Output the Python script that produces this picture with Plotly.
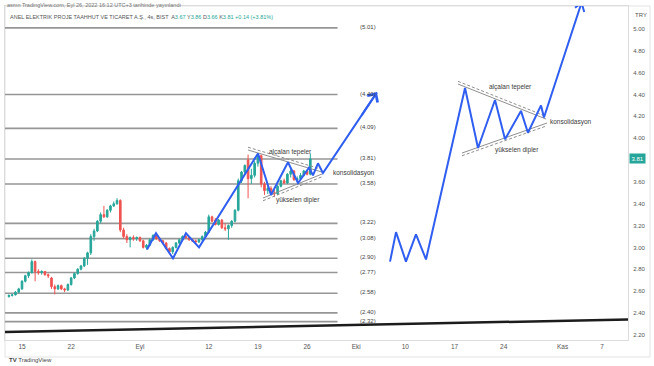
import plotly.graph_objects as go

# ---------------- data ----------------
opens = [2.55, 2.56, 2.565, 2.59, 2.62, 2.69, 2.74, 2.77, 2.87, 2.78,
         2.77, 2.78, 2.75, 2.72, 2.64, 2.62, 2.65, 2.62, 2.61, 2.66,
         2.72, 2.76, 2.80, 2.83, 2.90, 2.95, 3.10, 3.15, 3.24, 3.30,
         3.28, 3.34, 3.38, 3.40, 3.43, 3.16, 3.10, 3.07, 3.09, 3.08,
         3.09, 3.06, 3.00, 3.02, 3.07, 3.11, 3.08, 3.06, 3.04, 2.99,
         2.96, 3.00, 3.04, 3.07, 3.10, 3.09, 3.07, 3.06, 3.05, 3.07,
         3.10, 3.14, 3.28, 3.25, 3.21, 3.25, 3.18, 3.17, 3.20, 3.24,
         3.34, 3.61, 3.69, 3.80, 3.63, 3.66, 3.77, 3.84, 3.58, 3.52,
         3.54, 3.50, 3.49, 3.56, 3.61, 3.59, 3.67, 3.70, 3.62, 3.63,
         3.66, 3.70, 3.67]
highs = [2.57, 2.575, 2.60, 2.63, 2.70, 2.75, 2.78, 2.89, 2.88, 2.80,
         2.79, 2.78, 2.76, 2.73, 2.66, 2.66, 2.66, 2.63, 2.67, 2.73,
         2.77, 2.81, 2.84, 2.91, 2.96, 3.12, 3.17, 3.25, 3.32, 3.38,
         3.35, 3.39, 3.42, 3.45, 3.44, 3.18, 3.12, 3.10, 3.11, 3.10,
         3.10, 3.07, 3.03, 3.08, 3.12, 3.12, 3.09, 3.07, 3.05, 3.00,
         3.01, 3.05, 3.08, 3.11, 3.11, 3.10, 3.08, 3.07, 3.08, 3.11,
         3.15, 3.30, 3.29, 3.27, 3.26, 3.26, 3.22, 3.21, 3.25, 3.35,
         3.63, 3.70, 3.76, 3.85, 3.72, 3.79, 3.86, 3.85, 3.60, 3.56,
         3.56, 3.53, 3.57, 3.62, 3.63, 3.68, 3.72, 3.71, 3.65, 3.68,
         3.71, 3.71, 3.86]
lows = [2.54, 2.55, 2.56, 2.58, 2.61, 2.68, 2.72, 2.76, 2.69, 2.75,
        2.75, 2.74, 2.72, 2.62, 2.57, 2.61, 2.61, 2.59, 2.60, 2.65,
        2.71, 2.75, 2.79, 2.82, 2.84, 2.93, 3.06, 3.14, 3.22, 3.27,
        3.27, 3.32, 3.37, 3.39, 3.14, 3.08, 3.04, 3.00, 3.06, 3.06,
        3.05, 2.99, 2.98, 3.01, 3.06, 3.07, 3.05, 3.03, 2.98, 2.95,
        2.94, 2.99, 3.03, 3.06, 3.08, 3.06, 3.05, 3.04, 3.04, 3.06,
        3.09, 3.13, 3.23, 3.20, 3.20, 3.17, 3.15, 3.07, 3.18, 3.23,
        3.33, 3.59, 3.67, 3.45, 3.58, 3.64, 3.74, 3.55, 3.48, 3.49,
        3.49, 3.46, 3.48, 3.55, 3.58, 3.58, 3.64, 3.61, 3.60, 3.62,
        3.65, 3.66, 3.66]
closes = [2.56, 2.565, 2.59, 2.62, 2.69, 2.74, 2.77, 2.87, 2.78, 2.77,
          2.78, 2.75, 2.74, 2.64, 2.62, 2.65, 2.62, 2.61, 2.66, 2.72,
          2.76, 2.80, 2.83, 2.90, 2.95, 3.10, 3.15, 3.24, 3.30, 3.28,
          3.34, 3.38, 3.40, 3.43, 3.16, 3.10, 3.07, 3.09, 3.08, 3.09,
          3.06, 3.00, 3.02, 3.07, 3.11, 3.08, 3.06, 3.04, 2.99, 2.96,
          3.00, 3.04, 3.07, 3.10, 3.09, 3.07, 3.06, 3.05, 3.07, 3.10,
          3.14, 3.28, 3.24, 3.21, 3.25, 3.18, 3.17, 3.20, 3.24, 3.34,
          3.61, 3.69, 3.75, 3.63, 3.66, 3.77, 3.84, 3.58, 3.52, 3.54,
          3.50, 3.49, 3.56, 3.61, 3.59, 3.67, 3.70, 3.62, 3.63, 3.66,
          3.70, 3.67, 3.81]
first_bar_day = -4 / 3          # trading-day index of first 4h bar
bars_per_day = 3

# horizontal support / resistance levels
levels = [5.01, 4.40, 4.09, 3.81, 3.58, 3.22, 3.08, 2.90, 2.77, 2.58, 2.40, 2.32]
level_end_day = 32.1
level_label_day = 34.2

# long black trend line
trend_x = [-1.73, 61.65]
trend_y = [2.225, 2.34]

# blue zig-zag on the price chart
zig1_x = [12.72, 13.63, 15.36, 16.68, 18.01, 24.01, 25.33, 27.06, 28.08, 29.20, 29.60, 30.11, 30.62, 36.11]
zig1_y = [2.98, 3.13, 2.90, 3.13, 3.00, 3.86, 3.48, 3.78, 3.59, 3.73, 3.66, 3.77, 3.68, 4.42]

# blue schematic zig-zag on the right
zig2_x = [37.44, 38.05, 39.06, 40.08, 41.10, 45.07, 46.39, 48.12, 49.14, 50.76, 51.47, 52.80, 53.10, 56.92]
zig2_y = [2.87, 3.14, 2.87, 3.12, 2.89, 4.46, 3.91, 4.35, 3.99, 4.25, 4.05, 4.30, 4.19, 5.24]
zig2_wing_x = [56.26, 56.92, 57.20]
zig2_wing_y = [5.194, 5.24, 5.156]

# triangle boundary lines  (x0, y0, x1, y1)
tri_solid = [(22.99, 3.892, 30.52, 3.690), (24.52, 3.452, 30.52, 3.672),
             (44.35, 4.496, 53.30, 4.176), (44.76, 3.864, 53.41, 4.139)]
tri_dashed = [(22.99, 3.917, 30.52, 3.715), (24.52, 3.427, 30.52, 3.647),
              (44.35, 4.521, 53.30, 4.201), (44.76, 3.839, 53.41, 4.114)]

# labels: (text, x, y, anchor)
notes = [("alçalan tepeler", 27.36, 3.874, "center"),
         ("konsolidasyon", 31.43, 3.681, "left"),
         ("yükselen dipler", 28.08, 3.434, "center"),
         ("alçalan tepeler", 49.74, 4.469, "center"),
         ("konsolidasyon", 53.51, 4.148, "left"),
         ("yükselen dipler", 50.36, 3.892, "center")]

x_tick_pos = [0, 5, 12, 19, 24, 29, 34, 39, 44, 49, 55, 59]
x_tick_labels = ["15", "22", "Eyl", "12", "19", "26", "Eki", "10", "17", "24", "Kas", "7"]
y_tick_vals = [2.2, 2.4, 2.6, 2.8, 3.0, 3.2, 3.4, 3.6, 4.0, 4.2, 4.4, 4.6, 4.8, 5.0]
last_price = 3.81

# ---------------- styling ----------------
UP = "#26a69a"
DOWN = "#ef5350"
BLUE = "#2f5ef0"
LEVEL = "#969696"
TRI = "#8f8f8f"
TXT = "#3a3a3a"
FONT = "Liberation Sans"

bar_x = [first_bar_day + i / bars_per_day for i in range(len(opens))]
x_range = [-1.73, 61.65]
y_range = [2.152, 5.2106]

fig = go.Figure()

fig.add_trace(go.Candlestick(
    x=bar_x, open=opens, high=highs, low=lows, close=closes,
    increasing=dict(line=dict(color=UP, width=1), fillcolor=UP),
    decreasing=dict(line=dict(color=DOWN, width=1), fillcolor=DOWN),
    whiskerwidth=0, showlegend=False, hoverinfo="skip"))

shapes = []
for lv in levels:
    shapes.append(dict(type="line", xref="x", yref="y", x0=x_range[0], x1=level_end_day,
                       y0=lv, y1=lv, line=dict(color=LEVEL, width=1.6), layer="below"))
# time-axis row border and outer frame
shapes.append(dict(type="rect", xref="paper", yref="paper", x0=0, x1=1.0 + 22 / 623,
                   y0=-(357 - 340) / 334, y1=1.0, line=dict(color="#e3e3e3", width=1),
                   fillcolor="rgba(0,0,0,0)", layer="below"))

for (x0, y0, x1, y1) in tri_solid:
    fig.add_trace(go.Scatter(x=[x0, x1], y=[y0, y1], mode="lines",
                             line=dict(color=TRI, width=1), showlegend=False, hoverinfo="skip"))
for (x0, y0, x1, y1) in tri_dashed:
    fig.add_trace(go.Scatter(x=[x0, x1], y=[y0, y1], mode="lines",
                             line=dict(color=TRI, width=1, dash="3px,2px"), showlegend=False, hoverinfo="skip"))

fig.add_trace(go.Scatter(x=trend_x, y=trend_y, mode="lines",
                         line=dict(color="#1c1c1c", width=2.5), showlegend=False, hoverinfo="skip"))

fig.add_trace(go.Scatter(x=zig1_x, y=zig1_y, mode="lines",
                         line=dict(color=BLUE, width=2), showlegend=False, hoverinfo="skip"))
fig.add_trace(go.Scatter(x=zig2_x, y=zig2_y, mode="lines",
                         line=dict(color=BLUE, width=2), showlegend=False, hoverinfo="skip"))
fig.add_trace(go.Scatter(x=zig2_wing_x, y=zig2_wing_y, mode="lines",
                         line=dict(color=BLUE, width=2), showlegend=False, hoverinfo="skip"))

annotations = []
# arrow head on the first zig-zag
annotations.append(dict(x=zig1_x[-1], y=zig1_y[-1], xref="x", yref="y",
                        ax=zig1_x[-2] + 0.7 * (zig1_x[-1] - zig1_x[-2]),
                        ay=zig1_y[-2] + 0.7 * (zig1_y[-1] - zig1_y[-2]),
                        axref="x", ayref="y", text="", showarrow=True,
                        arrowhead=4, arrowsize=1.2, arrowwidth=2, arrowcolor=BLUE))

for lv in levels:
    annotations.append(dict(x=level_label_day, y=lv, xref="x", yref="y", text=f"({lv:.2f})",
                            showarrow=False, xanchor="left", yanchor="middle", yshift=1,
                            font=dict(family=FONT, size=6, color="#444")))

for (t, x, y, anc) in notes:
    annotations.append(dict(x=x, y=y, xref="x", yref="y", text=t, showarrow=False,
                            xanchor=anc, yanchor="middle",
                            font=dict(family=FONT, size=6.5, color=TXT)))

# price badge and currency
annotations.append(dict(x=1, y=last_price, xref="paper", yref="y", text=f"{last_price:.2f}",
                        showarrow=False, xanchor="left", yanchor="middle", xshift=1,
                        bgcolor=UP, borderpad=1.5,
                        font=dict(family=FONT, size=6, color="white")))
annotations.append(dict(x=1, y=5.13, xref="paper", yref="y", text="TRY", showarrow=False,
                        xanchor="left", yanchor="middle", xshift=5,
                        font=dict(family=FONT, size=6, color="#555")))

# header texts
annotations.append(dict(x=0, y=1.0, xref="paper", yref="paper", xanchor="left", yanchor="middle",
                        yshift=1, showarrow=False,
                        text="asmn TradingView.com, Eyl 26, 2022 16:12 UTC+3 tarihinde yayınlandı",
                        font=dict(family=FONT, size=5.5, color="#777")))
hdr_vals = ("ANEL ELEKTRIK PROJE TAAHHUT VE TICARET A.Ş., 4s, BIST  "
            f"A<span style='color:{UP}'>3.67</span> Y<span style='color:{UP}'>3.86</span> "
            f"D<span style='color:{UP}'>3.66</span> K<span style='color:{UP}'>3.81</span> "
            f"<span style='color:{UP}'>+0.14 (+3.81%)</span>")
annotations.append(dict(x=0, y=(340 - 17) / 334, xref="paper", yref="paper", xanchor="left",
                        yanchor="middle", xshift=3, showarrow=False, text=hdr_vals,
                        font=dict(family=FONT, size=5.5, color="#555")))
# footer logo
annotations.append(dict(x=0, y=-(360 - 340) / 334, xref="paper", yref="paper", xanchor="left",
                        yanchor="middle", xshift=2, showarrow=False,
                        text="<b>TV</b> TradingView",
                        font=dict(family=FONT, size=6, color="#444")))

fig.update_layout(
    width=654, height=366,
    margin=dict(l=5, r=26, t=6, b=26),
    paper_bgcolor="white", plot_bgcolor="white",
    shapes=shapes, annotations=annotations,
    showlegend=False,
    xaxis=dict(range=x_range, tickvals=x_tick_pos, ticktext=x_tick_labels,
               showgrid=False, zeroline=False, showline=True, linecolor="#dcdcdc",
               mirror=True, ticks="", rangeslider=dict(visible=False),
               tickfont=dict(family=FONT, size=6.5, color="#555")),
    yaxis=dict(range=y_range, side="right", tickvals=y_tick_vals,
               ticktext=[f"{v:.2f}" for v in y_tick_vals],
               showgrid=False, zeroline=False, showline=True, linecolor="#dcdcdc",
               mirror=True, ticks="", ticklabelstandoff=3,
               tickfont=dict(family=FONT, size=6, color="#555")),
)

fig.write_html("out.html", config={"displayModeBar": False},
               post_script="document.body.style.margin='0';document.body.style.overflow='hidden';")
